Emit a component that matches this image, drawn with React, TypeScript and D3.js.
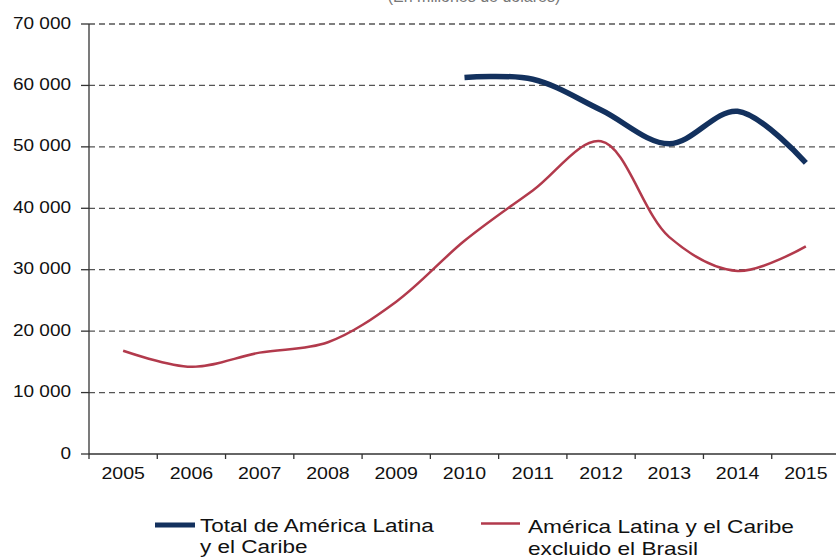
import React from "react";
import * as d3 from "d3";

const years = ["2005","2006","2007","2008","2009","2010","2011","2012","2013","2014","2015"];
const totalYears = ["2010","2011","2012","2013","2014","2015"];
const totalValues = [61300, 61000, 56000, 50500, 55800, 47400];
const exclBrasilValues = [16800, 14200, 16500, 18200, 24800, 34700, 42900, 50900, 35300, 29800, 33800];
const yTicks = [0, 10000, 20000, 30000, 40000, 50000, 60000, 70000];

const W = 836, H = 558;
const left = 89, right = 840, top = 24, bottom = 454;

const fmt = (v: number) => {
  const s = String(v);
  return s.length > 3 ? s.slice(0, s.length - 3) + " " + s.slice(-3) : s;
};

function SText({ x, y, size, sx, anchor = "start", children }: any) {
  return (
    <text transform={`translate(${x},${y}) scale(${sx},1)`} fontSize={size} textAnchor={anchor} fill="#111">
      {children}
    </text>
  );
}

export default function App() {
  const x = d3.scaleBand<string>().domain(years).range([left, right]).padding(0);
  const y = d3.scaleLinear().domain([0, 70000]).range([bottom, top]);
  const cx = (yr: string) => (x(yr) as number) + x.bandwidth() / 2;

  const line = d3.line<[string, number]>()
    .x(d => cx(d[0]))
    .y(d => y(d[1]))
    .curve(d3.curveCatmullRom.alpha(0.5));

  const totalPath = line(totalYears.map((yr, i) => [yr, totalValues[i]] as [string, number])) || "";
  const redPath = line(years.map((yr, i) => [yr, exclBrasilValues[i]] as [string, number])) || "";

  const font = "'Liberation Sans', Arial, sans-serif";
  const blue = "#13315e";
  const red = "#b23a4c";

  return (
    <div style={{ position: "absolute", left: 0, top: 0 }}>
      <svg width={W} height={H} style={{ display: "block", background: "#fff" }} fontFamily={font}>
        <text x={474} y={2} textAnchor="middle" fontSize={16} fill="#777">(En millones de dólares)</text>
        {yTicks.map(t => (
          <g key={t}>
            {t > 0 && (
              <line x1={left} x2={right} y1={y(t)} y2={y(t)} stroke="#555" strokeWidth={1.3} strokeDasharray="6,4" />
            )}
            <line x1={left - 8} x2={left} y1={y(t)} y2={y(t)} stroke="#333" strokeWidth={1.3} />
            <SText x={left - 18} y={y(t) + 4.5} size={16.5} sx={1.15} anchor="end">{fmt(t)}</SText>
          </g>
        ))}
        <line x1={left} x2={left} y1={top} y2={bottom} stroke="#333" strokeWidth={1.3} />
        <line x1={left} x2={right} y1={bottom} y2={bottom} stroke="#333" strokeWidth={1.3} />
        {years.map(yr => (
          <g key={yr}>
            <line x1={x(yr) as number} x2={x(yr) as number} y1={bottom} y2={bottom + 5} stroke="#333" strokeWidth={1.3} />
            <SText x={cx(yr)} y={bottom + 25} size={17} sx={1.15} anchor="middle">{yr}</SText>
          </g>
        ))}
        <path d={redPath} fill="none" stroke={red} strokeWidth={2.5} />
        <path d={totalPath} fill="none" stroke={blue} strokeWidth={5.5} />
        <g>
          <line x1={155} x2={195} y1={525} y2={525} stroke={blue} strokeWidth={5} />
          <SText x={200} y={532} size={18} sx={1.25}>Total de América Latina</SText>
          <SText x={200} y={553} size={18} sx={1.25}>y el Caribe</SText>
          <line x1={481} x2={520} y1={523.5} y2={523.5} stroke={red} strokeWidth={2.5} />
          <SText x={528} y={533} size={18} sx={1.26}>América Latina y el Caribe</SText>
          <SText x={528} y={555} size={18} sx={1.26}>excluido el Brasil</SText>
        </g>
      </svg>
    </div>
  );
}
